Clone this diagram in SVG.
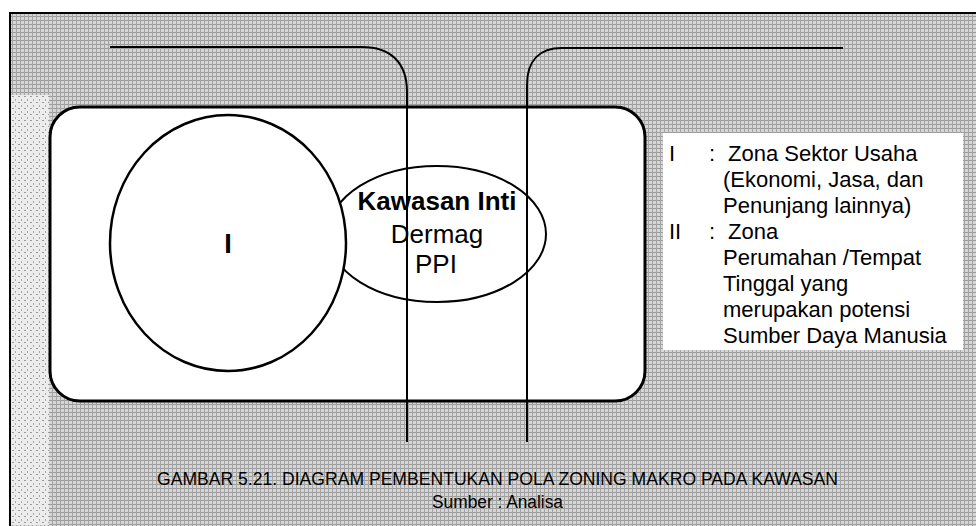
<svg xmlns="http://www.w3.org/2000/svg" width="976" height="526" viewBox="0 0 976 526">
  <defs>
    <pattern id="halftone" width="4" height="4" patternUnits="userSpaceOnUse">
      <rect width="4" height="4" fill="#d6d6d6"/>
      <rect width="4" height="1" fill="#9c9c9c"/>
      <rect width="1" height="4" fill="#a4a4a4"/>
    </pattern>
    <pattern id="halftoneLight" width="6" height="6" patternUnits="userSpaceOnUse">
      <rect width="6" height="6" fill="#ececec"/>
      <rect width="2" height="1" fill="#9a9a9a"/>
      <rect x="3" y="3" width="1" height="2" fill="#a8a8a8"/>
    </pattern>
  </defs>
  <style>
    .shape { fill: #ffffff; stroke: #000000; }
    .conn { fill: none; stroke: #000000; stroke-width: 2; }
    .t { font-family: "Liberation Sans", Arial, sans-serif; fill: #000000; }
  </style>

  <rect x="0" y="0" width="976" height="526" fill="#ffffff"/>
  <g id="frame">
    <rect x="10" y="13" width="980" height="520" fill="url(#halftone)" stroke="#000" stroke-width="2"/>
    <rect x="11" y="95" width="38" height="430" fill="url(#halftoneLight)"/>
  </g>

  <g id="zone-area">
    <rect class="shape" x="50" y="107" width="595" height="294" rx="30" ry="30" stroke-width="3"/>
  </g>

  <g id="kawasan-inti">
    <ellipse class="shape" cx="437" cy="234" rx="109" ry="68" stroke-width="2"/>
  </g>

  <g id="zona-I">
    <ellipse class="shape" cx="228" cy="243" rx="118" ry="128" stroke-width="2.5"/>
    <text class="t" x="228" y="253" font-size="27" font-weight="bold" text-anchor="middle">I</text>
  </g>

  <g id="kawasan-inti-label">
    <text class="t" x="437" y="210" font-size="26" font-weight="bold" text-anchor="middle">Kawasan Inti</text>
    <text class="t" x="437" y="243" font-size="26" text-anchor="middle">Dermag</text>
    <text class="t" x="436" y="273" font-size="26" text-anchor="middle">PPI</text>
  </g>

  <g id="connectors">
    <path class="conn" d="M110 47 H362 C390 47 407 62 407 92 V442"/>
    <path class="conn" d="M843 48 H562 C540 48 527 60 527 85 V442"/>
  </g>

  <g id="legend">
    <rect x="663" y="133" width="300" height="217" fill="#ffffff"/>
    <g class="t" font-size="22">
      <text x="669" y="161">I</text>
      <text x="709" y="161">:</text>
      <text x="728" y="161">Zona Sektor Usaha</text>
      <text x="723" y="187">(Ekonomi, Jasa, dan</text>
      <text x="723" y="213">Penunjang lainnya)</text>
      <text x="669" y="239">II</text>
      <text x="709" y="239">:</text>
      <text x="728" y="239">Zona</text>
      <text x="723" y="265">Perumahan /Tempat</text>
      <text x="723" y="291">Tinggal yang</text>
      <text x="723" y="317">merupakan potensi</text>
      <text x="723" y="343">Sumber Daya Manusia</text>
    </g>
  </g>

  <g id="caption">
    <text class="t" x="157" y="485" font-size="18" textLength="681" lengthAdjust="spacingAndGlyphs">GAMBAR 5.21. DIAGRAM PEMBENTUKAN POLA ZONING MAKRO PADA KAWASAN</text>
    <text class="t" x="432" y="508" font-size="18" textLength="131" lengthAdjust="spacingAndGlyphs">Sumber : Analisa</text>
  </g>
</svg>
